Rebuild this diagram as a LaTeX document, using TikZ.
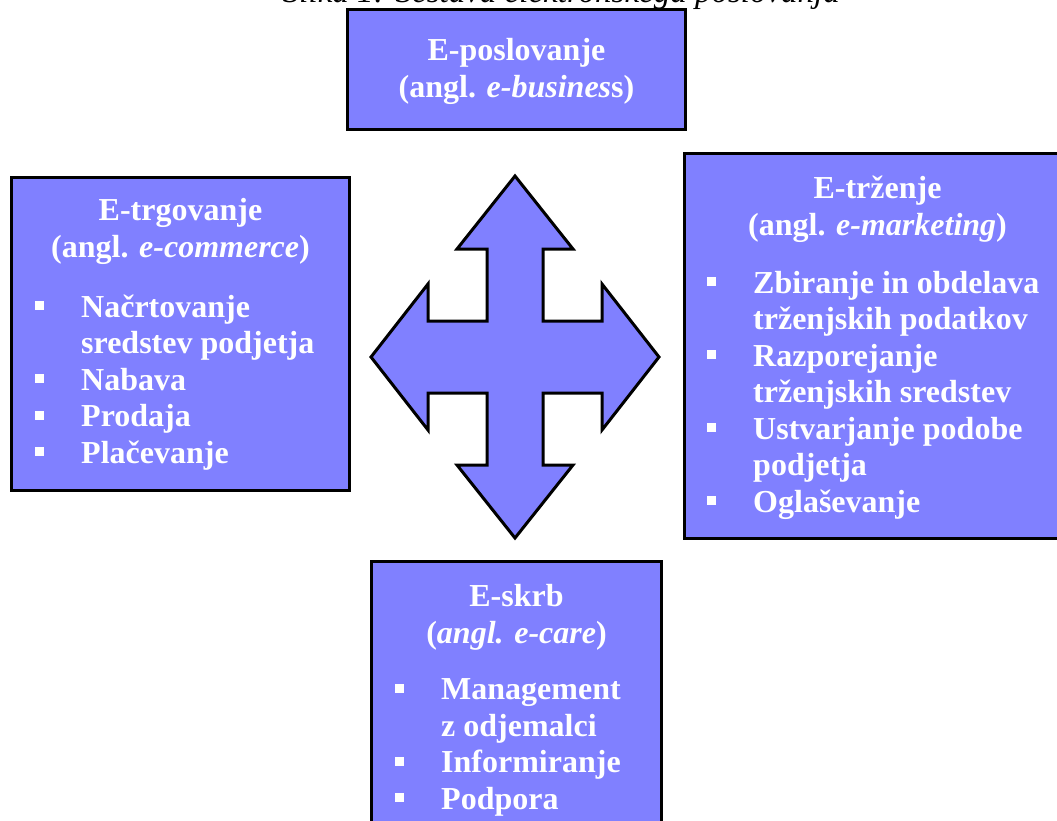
\documentclass[tikz,border=0pt]{standalone}
\usepackage{fontspec}
\setmainfont{Liberation Serif}
\usetikzlibrary{calc}
\definecolor{panel-blue}{HTML}{8080FF}
\newcommand{\sqbullet}{\makebox[46pt][l]{\rule[7pt]{9pt}{9pt}}}
\newcommand{\listgap}{\hspace*{46pt}}

\begin{document}
\begin{tikzpicture}[
    x=1pt, y=-1pt,
    panel/.style={draw, line width=3pt, fill=panel-blue, anchor=north west, inner sep=0pt},
    headtext/.style={text=white, font=\fontsize{32}{37}\selectfont\bfseries, align=center, anchor=base, inner sep=0pt},
    listtext/.style={text=white, font=\fontsize{32}{36.5}\selectfont\bfseries, align=left, anchor=base west, inner sep=0pt},
    crossarrow/.style={draw, line width=3pt, fill=panel-blue, line join=miter},
    captext/.style={font=\fontsize{33}{38}\selectfont\itshape, anchor=base east, inner sep=0pt}
]
    \useasboundingbox (0,0) rectangle (1057,820);

    % --- Caption (cut off by the page edge) ---
    \node (caption) [captext] at (840,2) {Slika 1: Sestava elektronskega poslovanja};

    % --- Boxes ---
    \node (ebiz) [panel, minimum width=338, minimum height=120] at (346,8) {};
    \node (etrg) [panel, minimum width=338, minimum height=313] at (10,176) {};
    \node (etrz) [panel, minimum width=386, minimum height=385] at (683,152) {};
    \node (eskrb) [panel, minimum width=290, minimum height=300] at (370,560) {};

    % --- Headings (placed at the baseline of the last line) ---
    \node (ebiz_head) [headtext] at ($(ebiz.north)+(0,89)$) {E-poslovanje\\(angl. \textit{e-busines}s)};
    \node (etrg_head) [headtext] at ($(etrg.north)+(0,81)$) {E-trgovanje\\(angl. \textit{e-commerce})};
    \node (etrz_head) [headtext] at ($(etrz.north)+(0,83)$) {E-trženje\\(angl. \textit{e-marketing})};
    \node (eskrb_head) [headtext] at ($(eskrb.north)+(0,83)$) {E-skrb\\(\textit{angl. e-care})};

    % --- Lists ---
    \node (etrg_list) [listtext] at ($(etrg.north west)+(25,287)$) {%
        \sqbullet Načrtovanje\\\listgap sredstev podjetja\\
        \sqbullet Nabava\\\sqbullet Prodaja\\\sqbullet Plačevanje};
    \node (etrz_list) [listtext] at ($(etrz.north west)+(24,360)$) {%
        \sqbullet Zbiranje in obdelava\\\listgap trženjskih podatkov\\
        \sqbullet Razporejanje\\\listgap trženjskih sredstev\\
        \sqbullet Ustvarjanje podobe\\\listgap podjetja\\
        \sqbullet Oglaševanje};
    \node (eskrb_list) [listtext] at ($(eskrb.north west)+(25,249)$) {%
        \sqbullet Management\\\listgap z odjemalci\\
        \sqbullet Informiranje\\\sqbullet Podpora};

    % --- Four-way arrow ---
    \coordinate (hub) at (515,357);
    \draw [crossarrow, shift={(hub)}]
        (0,-181) -- (58,-108) -- (28,-108) -- (28,-36) -- (87,-36) -- (87,-73)
        -- (144,0) -- (87,73) -- (87,36) -- (28,36) -- (28,108) -- (58,108)
        -- (0,181) -- (-58,108) -- (-28,108) -- (-28,36) -- (-87,36) -- (-87,73)
        -- (-144,0) -- (-87,-73) -- (-87,-36) -- (-28,-36) -- (-28,-108) -- (-58,-108)
        -- cycle;

\end{tikzpicture}
\end{document}
